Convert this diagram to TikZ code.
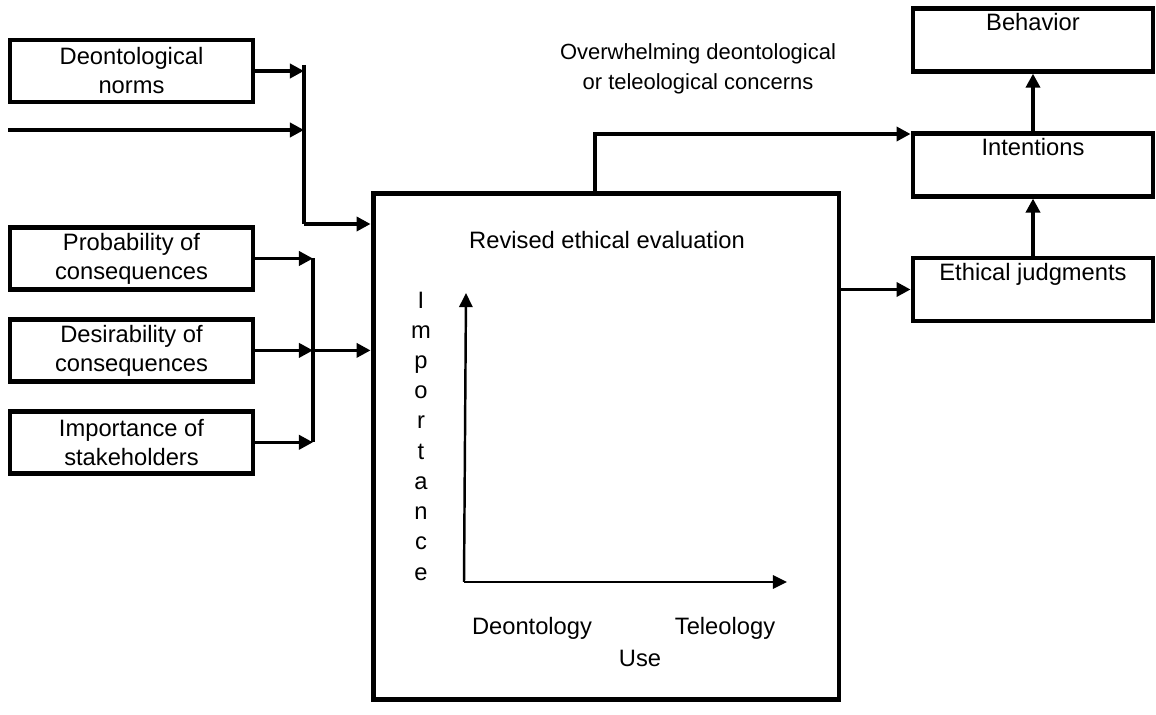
\documentclass[tikz,border=0pt]{standalone}
\usepackage{fontspec}
\setmainfont{Liberation Sans}
\usetikzlibrary{arrows.meta}
\usetikzlibrary{positioning}

\begin{document}
\begin{tikzpicture}[
        x=0.02cm, y=-0.02cm,
        nodes={font=\fontsize{13.5}{16.5}\selectfont, align=center},
        box_style/.style={rectangle, draw, line width=2.8pt, inner sep=2pt,
          minimum width=4.86cm, minimum height=1.24cm},
        result_style/.style={box_style, minimum width=4.8cm, minimum height=1.26cm},
        link/.style={line width=2pt},
        link_arrow/.style={link, -{Triangle[length=8pt, width=8pt]}},
        axis_arrow/.style={line width=1.4pt, -{Triangle[length=8pt, width=7.5pt]}},
      node distance=0.5cm]

      \useasboundingbox (0,0) rectangle (1156,715);

      % inputs on the left
      \node[box_style] (deont_norms) at (131.5,71) {Deontological\\norms};
      \node[box_style] (prob_cons) at (131.5,258.5) {Probability of\\consequences};
      \node[box_style, below=of prob_cons] (desir_cons) {Desirability of\\consequences};
      \node[box_style, below=of desir_cons] (import_stake) {Importance of\\stakeholders};

      % evaluation box
      \node[draw, line width=2.8pt, minimum width=9.32cm, minimum height=10.14cm] (eval_box) at (606,446.5) {};
      \node (eval_title) at (607,240) {Revised ethical evaluation};

      % outcomes on the right
      \node[result_style] (ethic_judg) at (1033,289.5) {Ethical judgments\\[4pt]\mbox{}};
      \node[result_style, above=1.14cm of ethic_judg] (intentions) {Intentions\\[4pt]\mbox{}};
      \node[result_style, above=1.14cm of intentions] (behavior) {Behavior\\[4pt]\mbox{}};
      \node[font=\fontsize{12.5}{17}\selectfont] (concerns) at (698,69) {Overwhelming deontological\\or teleological concerns};

      \coordinate (join_norms) at (304,65);
      \coordinate (join_norms_bot) at (304,224);
      \coordinate (free_in) at (8,130);
      \coordinate (join_cons) at (313,350);
      \coordinate (branch_up) at (595,134);

      \draw[link_arrow] (deont_norms.east) -- (deont_norms.east -| join_norms);
      \draw[link_arrow] (free_in) -- (free_in -| join_norms);
      \draw[link] (join_norms) -- (join_norms_bot);
      \draw[link_arrow] (join_norms_bot) -- (join_norms_bot -| eval_box.west);

      \draw[link_arrow] (prob_cons.east) -- (prob_cons.east -| join_cons);
      \draw[link_arrow] (desir_cons.east) -- (desir_cons.east -| join_cons);
      \draw[link_arrow] (import_stake.east) -- (import_stake.east -| join_cons);
      \draw[link] (join_cons |- prob_cons.east) -- (join_cons |- import_stake.east);
      \draw[link_arrow] (desir_cons.east -| join_cons) -- (desir_cons.east -| eval_box.west);

      \draw[link_arrow] (branch_up |- eval_box.north) -- (branch_up) -- (branch_up -| intentions.west);
      \draw[link_arrow] (eval_box.east |- ethic_judg.west) -- (ethic_judg.west);
      \draw[link_arrow] (ethic_judg) -- (intentions);
      \draw[link_arrow] (intentions) -- (behavior);

      % axes inside the evaluation box
      \coordinate (origin) at (464,582);
      \coordinate (y_end) at (466,293);
      \coordinate (x_end) at (787,582);
      \draw[axis_arrow] (origin) -- (y_end);
      \draw[axis_arrow] (origin) -- (x_end);
      \node[font=\fontsize{13.5}{17.2}\selectfont] (imp_label) at (421,436) {I\\m\\p\\o\\r\\t\\a\\n\\c\\e};
      \node (deont_label) at (532,628) {Deontology};
      \node (teleo_label) at (725,628) {Teleology};
      \node (use_label) at (640,658) {Use};
    \end{tikzpicture}
\end{document}
